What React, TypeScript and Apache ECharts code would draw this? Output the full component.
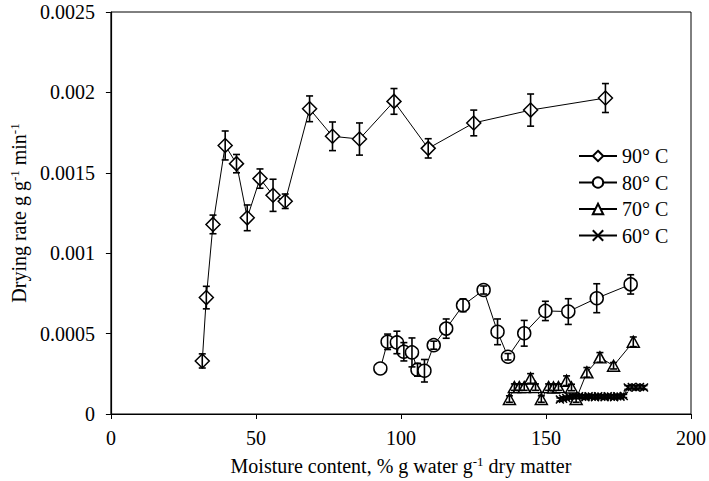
import React, { useEffect, useRef } from "react";
import * as echarts from "echarts";

// 90° C
const x90 = [31.5, 32.9, 35.2, 39.4, 43.3, 47.0, 51.4, 55.9, 60.1, 68.5, 76.4, 85.7, 97.6, 109.4, 125.1, 144.7, 170.5];
const y90 = [0.00033, 0.000724, 0.001179, 0.00167, 0.001557, 0.00122, 0.001464, 0.00136, 0.001323, 0.001898, 0.001727, 0.00171, 0.001944, 0.001652, 0.00181, 0.00189, 0.001965];
const e90 = [0.000044, 0.00007, 0.000058, 0.00009, 0.000057, 0.00008, 0.00006, 0.0001, 0.000045, 0.00008, 0.000089, 0.0001, 0.00008, 0.00006, 0.00008, 0.0001, 0.00009];

// 80° C
const x80 = [92.9, 95.4, 98.6, 101.0, 103.8, 105.7, 108.1, 111.3, 115.6, 121.4, 128.5, 133.3, 136.9, 142.5, 149.8, 157.7, 167.5, 179.2];
const y80 = [0.000283, 0.000449, 0.000445, 0.000387, 0.000383, 0.000275, 0.000269, 0.000428, 0.000531, 0.000676, 0.000771, 0.000511, 0.000356, 0.000502, 0.000641, 0.000637, 0.00072, 0.000806];
const e80 = [0.0, 0.000048, 0.00007, 0.000057, 0.00009, 0.00004, 0.00007, 0.000025, 0.00006, 0.00004, 0.000025, 0.00008, 0.00002, 0.00008, 0.00006, 0.00008, 0.00009, 0.00006];

// 70° C
const x70 = [137.4, 139.1, 140.8, 142.5, 144.7, 146.4, 148.4, 150.9, 152.6, 154.3, 157.1, 158.8, 160.4, 164.1, 168.6, 173.3, 180.1];
const y70 = [0.000093, 0.000167, 0.000167, 0.000167, 0.000221, 0.000167, 0.000093, 0.000167, 0.000165, 0.000167, 0.000207, 0.000165, 0.000093, 0.000259, 0.000352, 0.0003, 0.000449];
const e70 = [0.00002, 0.00002, 0.00002, 0.00002, 0.00003, 0.00002, 0.00002, 0.00002, 0.00002, 0.00002, 0.00003, 0.00002, 0.00002, 0.00003, 0.00003, 0.00002, 0.00003];

// 60° C
const x60 = [154.8, 155.9, 157.0, 158.1, 159.2, 160.3, 161.4, 162.5, 163.6, 164.7, 165.8, 166.9, 168.0, 169.1, 170.2, 171.3, 172.4, 173.5, 174.6, 175.7, 176.8, 178.2, 179.6, 181.0, 182.4, 183.8];
const y60 = [0.00009, 0.000095, 0.0001, 0.000105, 0.00011, 0.000105, 0.00011, 0.000108, 0.000105, 0.00011, 0.000108, 0.000105, 0.00011, 0.000108, 0.000105, 0.00011, 0.000108, 0.000105, 0.00011, 0.000108, 0.000112, 0.000165, 0.000168, 0.000165, 0.000168, 0.000165];
const e60 = [0.00001, 0.00001, 0.00001, 0.00001, 0.00001, 0.00001, 0.00001, 0.00001, 0.00001, 0.00001, 0.00001, 0.00001, 0.00001, 0.00001, 0.00001, 0.00001, 0.00001, 0.00001, 0.00001, 0.00001, 0.00001, 0.000012, 0.000012, 0.000012, 0.000012, 0.000012];

const seriesNames = ["90° C", "80° C", "70° C", "60° C"];
const xTicks = { min: 0, max: 200, interval: 50 };
const yTicks = { min: 0, max: 0.0025, interval: 0.0005 };

const FONT = "Liberation Serif";
const X_SYMBOL = "path://M0,0L10,10M10,0L0,10";

function pts(xs: number[], ys: number[]) {
  return xs.map((x, i) => [x, ys[i]]);
}
function errPts(xs: number[], ys: number[], es: number[]) {
  return xs.map((x, i) => [x, ys[i], es[i]]);
}

const errorRender = (params: any, api: any) => {
  const x = api.value(0);
  const y = api.value(1);
  const e = api.value(2);
  if (!e) return null;
  const top = api.coord([x, y + e]);
  const bot = api.coord([x, y - e]);
  const hw = 3.5;
  const st = { stroke: "#000", lineWidth: 1.6 };
  return {
    type: "group",
    children: [
      { type: "line", shape: { x1: top[0], y1: top[1], x2: bot[0], y2: bot[1] }, style: st },
      { type: "line", shape: { x1: top[0] - hw, y1: top[1], x2: top[0] + hw, y2: top[1] }, style: st },
      { type: "line", shape: { x1: bot[0] - hw, y1: bot[1], x2: bot[0] + hw, y2: bot[1] }, style: st },
    ],
  };
};

const supStyle = { fontFamily: FONT, fontSize: 13, verticalAlign: "top", padding: [0, 0, 9, 0], color: "#000" };

export default function App() {
  const ref = useRef<HTMLDivElement>(null);
  useEffect(() => {
    if (!ref.current) return;
    const chart = echarts.init(ref.current, null, { renderer: "svg" });
    const lineSeries = (name: string, data: number[][], symbol: string, size: any, z: number) => ({
      name,
      type: "line",
      data,
      symbol,
      symbolSize: size,
      showSymbol: true,
      z,
      lineStyle: { color: "#000", width: 1 },
      itemStyle: { color: "#fff", borderColor: "#000", borderWidth: 1.5 },
      emphasis: { disabled: true },
    });
    const errSeries = (data: number[][], z: number) => ({
      type: "custom",
      data,
      renderItem: errorRender,
      encode: { x: 0, y: 1 },
      z,
      silent: true,
    });
    chart.setOption({
      animation: false,
      backgroundColor: "#fff",
      textStyle: { fontFamily: FONT, color: "#000" },
      grid: {
        left: 98,
        right: 16,
        top: 12,
        bottom: 66,
        show: true,
        borderColor: "#000",
        borderWidth: 1,
        backgroundColor: "transparent",
      },
      legend: {
        data: seriesNames,
        orient: "vertical",
        left: 573,
        top: 141,
        itemWidth: 38,
        itemHeight: 13,
        itemGap: 6.5,
        textStyle: { fontFamily: FONT, fontSize: 20, color: "#000" },
      },
      xAxis: {
        type: "value",
        min: xTicks.min,
        max: xTicks.max,
        interval: xTicks.interval,
        splitLine: { show: false },
        axisLine: { lineStyle: { color: "#000", width: 1.2 } },
        axisTick: { show: true, length: 5, lineStyle: { color: "#000" } },
        axisLabel: { fontFamily: FONT, fontSize: 20, color: "#000", margin: 14 },
        name: "Moisture content, % g water g{sup|-1} dry matter",
        nameLocation: "middle",
        nameGap: 41,
        nameTextStyle: { fontFamily: FONT, fontSize: 20, color: "#000", rich: { sup: supStyle } },
      },
      yAxis: {
        type: "value",
        min: yTicks.min,
        max: yTicks.max,
        interval: yTicks.interval,
        splitLine: { show: false },
        axisLine: { lineStyle: { color: "#000", width: 1.2 } },
        axisTick: { show: true, length: 5, lineStyle: { color: "#000" } },
        axisLabel: { fontFamily: FONT, fontSize: 20, color: "#000", margin: 16 },
        name: "Drying rate g g{sup|-1} min{sup|-1}",
        nameLocation: "middle",
        nameGap: 76,
        nameTextStyle: { fontFamily: FONT, fontSize: 20, color: "#000", rich: { sup: supStyle } },
      },
      series: [
        lineSeries(seriesNames[3], pts(x60, y60), X_SYMBOL, 8, 2),
        lineSeries(seriesNames[2], pts(x70, y70), "triangle", [12, 11], 3),
        lineSeries(seriesNames[1], pts(x80, y80), "circle", 13, 4),
        lineSeries(seriesNames[0], pts(x90, y90), "diamond", [14, 14], 5),
        errSeries(errPts(x60, y60, e60), 6),
        errSeries(errPts(x70, y70, e70), 6),
        errSeries(errPts(x80, y80, e80), 6),
        errSeries(errPts(x90, y90, e90), 6),
      ],
    });
    return () => chart.dispose();
  }, []);
  return <div ref={ref} style={{ position: "absolute", left: 0, top: 0, width: 709, height: 481 }} />;
}
